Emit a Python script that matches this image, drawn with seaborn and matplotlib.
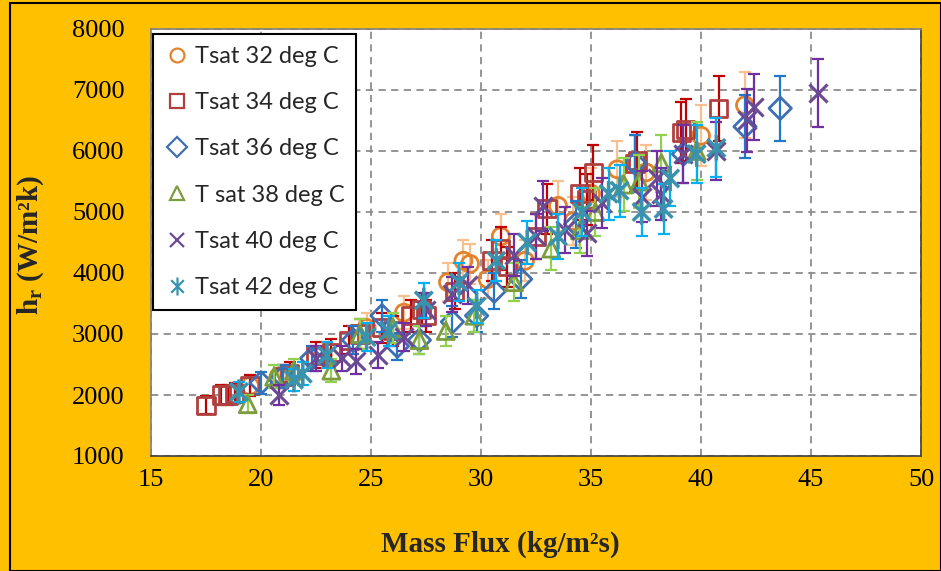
import numpy as np
import pandas as pd
import matplotlib
matplotlib.use("Agg")
import matplotlib.pyplot as plt
import seaborn as sns
from matplotlib.lines import Line2D
from matplotlib.patches import Rectangle
from matplotlib.path import Path

# ---- measured data: mass flux (kg/m2s) and heat transfer coefficient (W/m2K)
g_32 = [19.5, 20.8, 22.8, 24.8, 26.5, 28.5, 29.2, 29.5, 30.3, 30.9, 32.0, 33.5,
        34.2, 35.0, 36.2, 37.5, 40.0, 42.0]
h_32 = [2150, 2300, 2650, 3100, 3350, 3850, 4200, 4150, 3900, 4600, 4200, 5100,
        4850, 5300, 5700, 5650, 6250, 6750]

g_34 = [17.5, 18.2, 18.5, 18.8, 19.5, 21.0, 21.3, 22.5, 23.2, 24.0, 24.5, 25.5,
        26.0, 26.8, 27.3, 27.5, 28.8, 30.5, 30.9, 31.2, 32.5, 33.0, 34.5, 34.8,
        35.1, 37.0, 37.1, 39.1, 39.3, 40.8]
h_34 = [1830, 2000, 2000, 2030, 2150, 2300, 2350, 2650, 2700, 2900, 3000, 3100,
        3050, 3300, 3400, 3300, 3700, 4200, 4400, 4100, 4600, 5050, 5300, 5200,
        5650, 5800, 5850, 6300, 6350, 6700]

g_36 = [20.0, 21.0, 22.3, 24.2, 25.5, 26.2, 27.2, 28.7, 29.8, 30.6, 31.8, 34.3,
        37.0, 39.2, 42.0, 43.6]
h_36 = [2200, 2300, 2600, 2900, 3300, 2800, 2900, 3200, 3300, 3700, 3900, 4800,
        5800, 5950, 6400, 6700]

g_38 = [19.4, 20.6, 21.5, 23.2, 24.5, 26.0, 27.2, 28.4, 29.7, 31.5, 33.2, 34.5,
        35.2, 36.5, 37.2, 38.2, 39.8]
h_38 = [1850, 2300, 2400, 2400, 3000, 3100, 2900, 3050, 3300, 3850, 4400, 4700,
        5000, 5450, 5500, 5800, 6000]

g_40 = [20.8, 22.5, 23.7, 24.3, 25.3, 26.5, 27.5, 28.7, 29.4, 31.5, 32.5, 32.8,
        33.8, 34.8, 35.5, 37.3, 38.0, 38.2, 39.2, 40.7, 42.1, 42.4, 45.3]
h_40 = [2000, 2600, 2600, 2550, 2650, 2950, 3400, 3650, 3800, 4300, 4600, 5100,
        4700, 4650, 5150, 5250, 5550, 5300, 5950, 6000, 6500, 6720, 6950]

g_42 = [19.0, 21.5, 21.9, 23.0, 24.8, 25.8, 27.4, 29.0, 29.8, 30.7, 32.1, 33.5,
        34.6, 35.8, 36.3, 37.3, 38.3, 38.6, 39.8, 40.7]
h_42 = [2050, 2250, 2350, 2650, 2950, 3050, 3550, 3850, 3450, 4200, 4500, 4600,
        5000, 5300, 5350, 5000, 5050, 5550, 5950, 6050]

labels = ["Tsat 32 deg C", "Tsat 34 deg C", "Tsat 36 deg C",
          "T sat 38 deg C", "Tsat 40 deg C", "Tsat 42 deg C"]
rel_err = 0.08

x_ticks = [15, 20, 25, 30, 35, 40, 45, 50]
y_ticks = [1000, 2000, 3000, 4000, 5000, 6000, 7000, 8000]

series = [(g_32, h_32), (g_34, h_34), (g_36, h_36),
          (g_38, h_38), (g_40, h_40), (g_42, h_42)]

frames = []
for lab, (g, h) in zip(labels, series):
    frames.append(pd.DataFrame({"G": g, "h": h, "series": lab}))
df = pd.concat(frames, ignore_index=True)

# star marker: an X crossed by a vertical stroke
star = Path([(-0.7, -0.7), (0.7, 0.7), (-0.7, 0.7), (0.7, -0.7),
             (0, -1.0), (0, 1.0)],
            [Path.MOVETO, Path.LINETO, Path.MOVETO, Path.LINETO,
             Path.MOVETO, Path.LINETO])

# ---- styling per series
marker_col = ["#E3822B", "#B0403F", "#3F6FB2", "#7C9C3E", "#6A4A92", "#3A93AE"]
bar_col = ["#F9BF8C", "#C00000", "#1F78C8", "#92D050", "#7030A0", "#00B0F0"]
markers = ["o", "s", "D", "^", "x", star]
sizes = [150, 150, 130, 150, 170, 330]

sns.set_theme(style="white")
plt.rcParams["font.family"] = ["Liberation Serif", "DejaVu Serif"]
plt.rcParams["mathtext.fontset"] = "custom"
plt.rcParams["mathtext.rm"] = "Liberation Serif"
plt.rcParams["mathtext.bf"] = "Liberation Serif:bold"
plt.rcParams["mathtext.it"] = "Liberation Serif:italic"

fig = plt.figure(figsize=(9.41, 5.71), dpi=100)
fig.patch.set_facecolor("#FFC000")
ax = fig.add_axes([151 / 941, 1 - 456 / 571, 770 / 941, 427 / 571])
ax.set_facecolor("white")

for i, lab in enumerate(labels):
    sub = df[df["series"] == lab]
    ax.errorbar(sub["G"], sub["h"], yerr=rel_err * sub["h"], fmt="none",
                ecolor=bar_col[i], elinewidth=1.6, capsize=4.5, capthick=1.6,
                zorder=3 + 2 * i)
    if markers[i] == "x":
        sns.scatterplot(data=sub, x="G", y="h", ax=ax, marker=markers[i],
                        s=sizes[i], color=marker_col[i], linewidth=2.2,
                        zorder=4 + 2 * i, legend=False)
    else:
        sns.scatterplot(data=sub, x="G", y="h", ax=ax, marker=markers[i],
                        s=sizes[i], facecolor="none", edgecolor=marker_col[i],
                        linewidth=2.0 if i < 5 else 2.5,
                        zorder=4 + 2 * i, legend=False)

ax.set_xlim(15, 50)
ax.set_ylim(1000, 8000)
ax.set_xticks(x_ticks)
ax.set_yticks(y_ticks)
ax.set_xticklabels([str(v) for v in x_ticks])
ax.set_yticklabels([str(v) for v in y_ticks])
ax.tick_params(axis="both", which="major", labelsize=19, colors="#000000",
               length=5, width=1, direction="out")
ax.tick_params(axis="x", pad=4, color="#808080")
ax.tick_params(axis="y", pad=14, color="#808080")
ax.grid(True, color="#8C8C8C", linestyle=(0, (4, 3)), linewidth=1.3, zorder=1)
ax.set_axisbelow(True)
for side, sp in ax.spines.items():
    sp.set_visible(True)
    sp.set_color("#7F7F7F" if side in ("left", "top") else "#404040")
    sp.set_linewidth(1.2)

ax.set_xlabel("Mass Flux (kg/m²s)", fontsize=21, fontweight="bold")
ax.xaxis.set_label_coords((500 - 151) / 770, (456 - 544) / 427)
ax.xaxis.label.set_va("center")
ax.set_ylabel(r"$\mathbf{h_r}$ (W/m²k)", fontsize=21, fontweight="bold")
ax.yaxis.set_label_coords((31 - 151) / 770, (456 - 245) / 427)
ax.yaxis.label.set_va("center")

handles = []
for i, lab in enumerate(labels):
    handles.append(Line2D([], [], linestyle="none", marker=markers[i],
                          markersize=10 if i < 5 else 13,
                          markerfacecolor="none" if i != 4 else marker_col[i],
                          markeredgecolor=marker_col[i], markeredgewidth=1.6))
leg = ax.legend(handles, labels, loc="upper left",
                bbox_to_anchor=(0.003, 0.988), frameon=True, fancybox=False,
                edgecolor="black", facecolor="white", framealpha=1,
                prop={"family": ["Lato", "DejaVu Sans"], "size": 17},
                handlelength=1.0, handletextpad=0.25, labelspacing=1.07,
                borderpad=0.5, borderaxespad=0)
leg.get_frame().set_linewidth(1.5)
leg.set_zorder(30)

# outer chart border
fig.patches.append(Rectangle((10 / 941, 0), 1 - 10 / 941, 1 - 3 / 571,
                             transform=fig.transFigure, fill=False,
                             edgecolor="black", linewidth=1.5))

fig.savefig("out.png", dpi=100, facecolor=fig.get_facecolor())
